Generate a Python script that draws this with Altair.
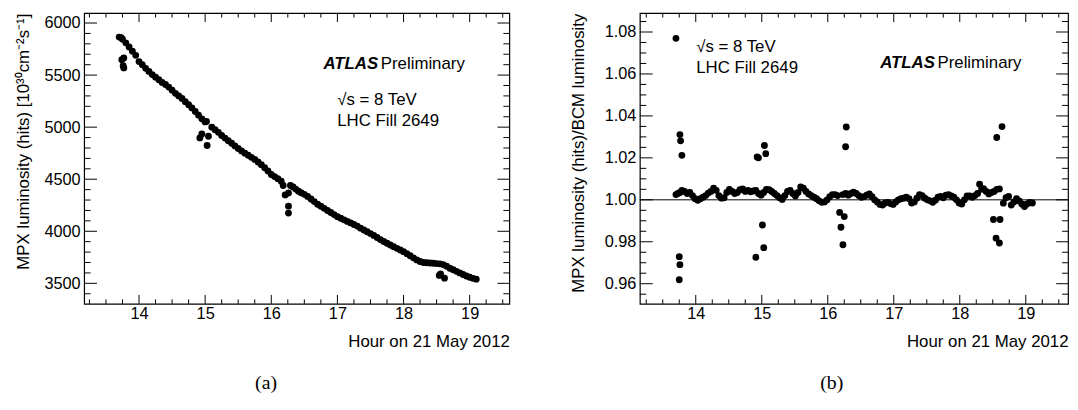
import altair as alt
import pandas as pd

# ---------------- Panel (a): MPX luminosity vs hour ----------------
hour_a = [13.70, 13.73, 13.75, 13.80, 13.85, 13.90, 13.95, 14.00, 14.05, 14.10,
          14.15, 14.20, 14.25, 14.30, 14.35, 14.40, 14.45, 14.50, 14.55, 14.60,
          14.65, 14.70, 14.75, 14.80, 14.85, 14.90, 14.95, 15.00, 15.02, 15.10,
          15.15, 15.20, 15.25, 15.30, 15.35, 15.40, 15.45, 15.50, 15.55, 15.60,
          15.65, 15.70, 15.75, 15.80, 15.85, 15.90, 15.95, 16.00, 16.05, 16.10,
          16.15, 16.18, 16.29, 16.33, 16.37, 16.41, 16.45, 16.50, 16.55, 16.60,
          16.65, 16.70, 16.75, 16.80, 16.85, 16.90, 16.95, 17.00, 17.05, 17.10,
          17.15, 17.20, 17.25, 17.30, 17.35, 17.40, 17.45, 17.50, 17.55, 17.60,
          17.65, 17.70, 17.75, 17.80, 17.85, 17.90, 17.95, 18.00, 18.05, 18.10,
          18.15, 18.20, 18.25, 18.30, 18.35, 18.40, 18.45, 18.50, 18.55, 18.60,
          18.65, 18.70, 18.75, 18.80, 18.85, 18.90, 18.95, 19.00, 19.05, 19.10]
lumi_a = [5865, 5860, 5845, 5810, 5770, 5730, 5690, 5630, 5600, 5565,
          5535, 5505, 5480, 5455, 5430, 5410, 5385, 5355, 5325, 5300,
          5275, 5245, 5215, 5185, 5150, 5115, 5080, 5050, 5055, 5000,
          4975, 4950, 4920, 4895, 4870, 4845, 4820, 4795, 4772, 4750,
          4730, 4710, 4690, 4665, 4640, 4610, 4580, 4545, 4525, 4505,
          4480, 4440, 4440, 4425, 4405, 4385, 4370, 4355, 4335, 4310,
          4285, 4260, 4240, 4220, 4200, 4180, 4160, 4140, 4125, 4110,
          4095, 4080, 4065, 4050, 4030, 4012, 3995, 3978, 3960, 3940,
          3920, 3902, 3885, 3868, 3852, 3836, 3820, 3804, 3785, 3765,
          3745, 3725, 3710, 3700, 3698, 3695, 3693, 3690, 3687, 3680,
          3665, 3645, 3630, 3615, 3600, 3585, 3570, 3558, 3548, 3540]
hour_a_out = [13.74, 13.77, 13.76, 13.77, 14.92, 14.95, 15.05, 15.03,
              16.21, 16.26, 16.26, 16.26, 18.54, 18.56, 18.62]
lumi_a_out = [5648, 5664, 5590, 5569, 4897, 4935, 4913, 4824,
              4349, 4368, 4241, 4175, 3576, 3590, 3550]

# ---------------- Panel (b): MPX / BCM ratio vs hour ----------------
hour_b = [13.70, 13.73, 13.76, 13.79, 13.83, 13.87, 13.91, 13.95, 13.99, 14.03,
          14.07, 14.11, 14.15, 14.19, 14.23, 14.27, 14.31, 14.35, 14.39, 14.43,
          14.47, 14.51, 14.55, 14.59, 14.63, 14.67, 14.71, 14.75, 14.79, 14.83,
          14.87, 14.91, 14.95, 14.99, 15.03, 15.07, 15.11, 15.15, 15.19, 15.23,
          15.27, 15.31, 15.35, 15.39, 15.43, 15.47, 15.51, 15.55, 15.59, 15.63,
          15.67, 15.71, 15.75, 15.79, 15.83, 15.87, 15.91, 15.95, 15.99, 16.03,
          16.07, 16.11, 16.15, 16.23, 16.27, 16.31, 16.35, 16.39, 16.43, 16.47,
          16.51, 16.55, 16.59, 16.63, 16.67, 16.71, 16.75, 16.79, 16.83, 16.87,
          16.91, 16.95, 16.99, 17.03, 17.07, 17.11, 17.15, 17.19, 17.23, 17.27,
          17.31, 17.35, 17.39, 17.43, 17.47, 17.51, 17.55, 17.59, 17.63, 17.67,
          17.71, 17.75, 17.79, 17.83, 17.87, 17.91, 17.95, 17.99, 18.03, 18.07,
          18.11, 18.15, 18.19, 18.23, 18.27, 18.30, 18.33, 18.36, 18.40, 18.44,
          18.48, 18.52, 18.56, 18.60, 18.66, 18.70, 18.74, 18.78, 18.82, 18.86,
          18.90, 18.94, 18.98, 19.02, 19.06, 19.10]
ratio_b = [1.0025, 1.0030, 1.0035, 1.0045, 1.0040, 1.0030, 1.0035, 1.0020, 1.0005, 0.9998,
           1.0005, 1.0012, 1.0020, 1.0032, 1.0040, 1.0055, 1.0045, 1.0020, 1.0008, 1.0010,
           1.0035, 1.0050, 1.0040, 1.0030, 1.0035, 1.0048, 1.0052, 1.0040, 1.0045, 1.0038,
           1.0042, 1.0045, 1.0030, 1.0022, 1.0035, 1.0050, 1.0048, 1.0040, 1.0030, 1.0020,
           1.0010, 1.0002, 1.0020, 1.0040, 1.0045, 1.0030, 1.0018, 1.0035, 1.0062, 1.0055,
           1.0040, 1.0028, 1.0020, 1.0012, 1.0005, 0.9995, 0.9988, 0.9990, 1.0000, 1.0015,
           1.0025, 1.0025, 1.0020, 1.0025, 1.0030, 1.0022, 1.0030, 1.0036, 1.0030, 1.0020,
           1.0012, 1.0015, 1.0022, 1.0028, 1.0015, 1.0000, 0.9990, 0.9978, 0.9975, 0.9985,
           0.9988, 0.9982, 0.9978, 0.9990, 1.0000, 1.0005, 1.0008, 1.0012, 1.0005, 0.9985,
           0.9990, 1.0008, 1.0025, 1.0020, 1.0008, 1.0000, 0.9995, 0.9988, 0.9998, 1.0012,
           1.0016, 1.0010, 1.0022, 1.0025, 1.0018, 1.0012, 1.0000, 0.9985, 0.9980, 1.0000,
           1.0018, 1.0018, 1.0012, 1.0020, 1.0030, 1.0074, 1.0050, 1.0053, 1.0040, 1.0028,
           1.0035, 1.0040, 1.0050, 1.0052, 0.9984, 1.0010, 1.0016, 0.9975, 0.9990, 1.0005,
           0.9995, 0.9980, 0.9968, 0.9980, 0.9988, 0.9985]
hour_b_out = [13.70, 13.76, 13.77, 13.79, 13.75, 13.76, 13.75,
              14.93, 14.95, 15.04, 15.06, 14.91, 15.01, 15.03,
              16.28, 16.27, 16.18, 16.25, 16.20, 16.23,
              18.56, 18.64, 18.51, 18.61, 18.55, 18.60]
ratio_b_out = [1.0770, 1.0311, 1.0281, 1.0212, 0.9729, 0.9691, 0.9619,
               1.0204, 1.0200, 1.0259, 1.0220, 0.9726, 0.9880, 0.9772,
               1.0347, 1.0253, 0.9940, 0.9920, 0.9869, 0.9786,
               1.0297, 1.0349, 0.9906, 0.9906, 0.9817, 0.9794]

# tick values
x_major = [14, 15, 16, 17, 18, 19]
x_minor = [13.25, 13.5, 13.75, 14.25, 14.5, 14.75, 15.25, 15.5, 15.75, 16.25, 16.5, 16.75,
           17.25, 17.5, 17.75, 18.25, 18.5, 18.75, 19.25, 19.5]
ya_major = [3500, 4000, 4500, 5000, 5500, 6000]
ya_minor = [v for v in range(3400, 6100, 100) if v % 500 != 0]
yb_major = [0.96, 0.98, 1.00, 1.02, 1.04, 1.06, 1.08]
yb_minor = [0.955, 0.965, 0.97, 0.975, 0.985, 0.99, 0.995, 1.005, 1.01, 1.015, 1.025,
            1.03, 1.035, 1.045, 1.05, 1.055, 1.065, 1.07, 1.075, 1.085]

FONT = "Liberation Sans"
H = 294
W_A, W_B = 430, 433
DOT = 48


# Variant X (panel a): tick rules through the shared scales, no own axis,
# with the layer's axes resolved independently.
def rules_x(vals, xs, a, b):
    return alt.Chart(pd.DataFrame({"tx": vals})).mark_rule(color="black", strokeWidth=1).encode(
        x=alt.X("tx:Q", scale=xs, axis=None), y=alt.value(a), y2=alt.value(b))


def rules_y(vals, ys, a, b):
    return alt.Chart(pd.DataFrame({"ty": vals})).mark_rule(color="black", strokeWidth=1).encode(
        y=alt.Y("ty:Q", scale=ys, axis=None), x=alt.value(a), x2=alt.value(b))


# Variant Z (panel b): tick decorations placed in pixel space from the axis domain.
def px_ticks(vals, dom, length, span, vertical, side_far):
    rows = []
    for v in vals:
        p = (v - dom[0]) / (dom[1] - dom[0]) * span
        if vertical:  # x ticks, p is horizontal pixel
            p0 = H if not side_far else 0
            p1 = p0 - length if not side_far else length
            rows.append({"px": p, "p0": p0, "p1": p1})
        else:         # y ticks, p measured from bottom
            py = H - p
            p0 = 0 if not side_far else W_B
            p1 = p0 + length if not side_far else W_B - length
            rows.append({"px": py, "p0": p0, "p1": p1})
    df = pd.DataFrame(rows)
    if vertical:
        return alt.Chart(df).mark_rule(color="black", strokeWidth=1).encode(
            x=alt.X("px:Q", scale=None), y=alt.Y("p0:Q", scale=None), y2="p1:Q")
    return alt.Chart(df).mark_rule(color="black", strokeWidth=1).encode(
        y=alt.Y("px:Q", scale=None), x=alt.X("p0:Q", scale=None), x2="p1:Q")


def text(x, y, s, size=17, weight="normal", style="normal", font=FONT, align="left", baseline="alphabetic"):
    return alt.Chart(pd.DataFrame({"d": [0]})).mark_text(
        align=align, baseline=baseline, font=font, fontSize=size, fontWeight=weight,
        fontStyle=style, color="black").encode(x=alt.value(x), y=alt.value(y), text=alt.value(s))


# ---- panel a ----
xdom_a, ydom_a = [13.17, 19.60], [3303, 6095]
xs_a = alt.Scale(domain=xdom_a, nice=False, zero=False)
ys_a = alt.Scale(domain=ydom_a, nice=False, zero=False)
ax_xa = alt.Axis(values=x_major, format="d", title="Hour on 21 May 2012", titleAnchor="end",
                 labelPadding=2, titlePadding=12)
ax_ya = alt.Axis(values=ya_major, format="d", title="MPX luminosity (hits) [10³⁰cm⁻²s⁻¹]",
                 titleAnchor="end", labelPadding=4, titlePadding=12)
df_a = pd.DataFrame({"hour": hour_a + hour_a_out, "lumi": lumi_a + lumi_a_out})

pts_a = alt.Chart(df_a).mark_circle(size=DOT, color="black", opacity=1).encode(
    x=alt.X("hour:Q", scale=xs_a, axis=ax_xa),
    y=alt.Y("lumi:Q", scale=ys_a, axis=ax_ya),
)
tk_a = [rules_x(x_major, xs_a, H, H - 9), rules_x(x_minor, xs_a, H, H - 4.5),
        rules_x(x_major, xs_a, 0, 9), rules_x(x_minor, xs_a, 0, 4.5),
        rules_y(ya_major, ys_a, 0, 13), rules_y(ya_minor, ys_a, 0, 6.5),
        rules_y(ya_major, ys_a, W_A, W_A - 12), rules_y(ya_minor, ys_a, W_A, W_A - 6)]
txt_a = [
    text(242, 56, "ATLAS", weight="bold", style="italic"),
    text(300, 56, "Preliminary"),
    text(256, 93, "√s = 8 TeV"),
    text(256, 114, "LHC Fill 2649"),
    text(184, 374, "(a)", size=20, font="Liberation Serif", align="center", baseline="middle"),
]
panel_a = alt.layer(pts_a, *tk_a, *txt_a).resolve_axis(
    x="independent", y="independent").properties(width=W_A, height=H)

# ---- panel b ----
xdom_b, ydom_b = [13.153, 19.64], [0.9504, 1.0890]
xs_b = alt.Scale(domain=xdom_b, nice=False, zero=False)
ys_b = alt.Scale(domain=ydom_b, nice=False, zero=False)
ax_xb = alt.Axis(values=x_major, format="d", title="Hour on 21 May 2012", titleAnchor="end",
                 labelPadding=2, titlePadding=12)
ax_yb = alt.Axis(values=yb_major, format=".2f", title="MPX luminosity (hits)/BCM luminosity",
                 titleAnchor="end", labelPadding=4, titlePadding=17)
df_b = pd.DataFrame({"hour": hour_b + hour_b_out, "ratio": ratio_b + ratio_b_out})

pts_b = alt.Chart(df_b).mark_circle(size=DOT, color="black", opacity=1).encode(
    x=alt.X("hour:Q", scale=xs_b, axis=ax_xb),
    y=alt.Y("ratio:Q", scale=ys_b, axis=ax_yb),
)
one_line = alt.Chart(pd.DataFrame({"ty": [1.0]})).mark_rule(color="black", strokeWidth=1).encode(
    y=alt.Y("ty:Q", scale=ys_b, axis=ax_yb))
tk_b = [px_ticks(x_major, xdom_b, 9, W_B, True, False), px_ticks(x_minor, xdom_b, 4.5, W_B, True, False),
        px_ticks(x_major, xdom_b, 9, W_B, True, True), px_ticks(x_minor, xdom_b, 4.5, W_B, True, True),
        px_ticks(yb_major, ydom_b, 13, H, False, False), px_ticks(yb_minor, ydom_b, 6.5, H, False, False),
        px_ticks(yb_major, ydom_b, 12, H, False, True), px_ticks(yb_minor, ydom_b, 6, H, False, True)]
txt_b = [
    text(57, 39, "√s = 8 TeV"),
    text(57, 61, "LHC Fill 2649"),
    text(243, 55, "ATLAS", weight="bold", style="italic"),
    text(301, 55, "Preliminary"),
    text(194, 374, "(b)", size=20, font="Liberation Serif", align="center", baseline="middle"),
]
panel_b = alt.layer(pts_b, one_line, *tk_b, *txt_b).properties(width=W_B, height=H)

chart = alt.hconcat(panel_a, panel_b, spacing=58).properties(
    padding={"left": 5, "top": 1, "right": 0, "bottom": 0},
    background="white",
).configure_view(stroke="black", strokeWidth=1.2).configure_axis(
    grid=False, ticks=False, tickSize=0, domain=False,
    labelFont=FONT, labelFontSize=16.5, labelColor="black",
    titleFont=FONT, titleFontSize=17, titleFontWeight="normal", titleColor="black",
)

chart.save("out.html", embed_options={"renderer": "svg", "actions": False})
